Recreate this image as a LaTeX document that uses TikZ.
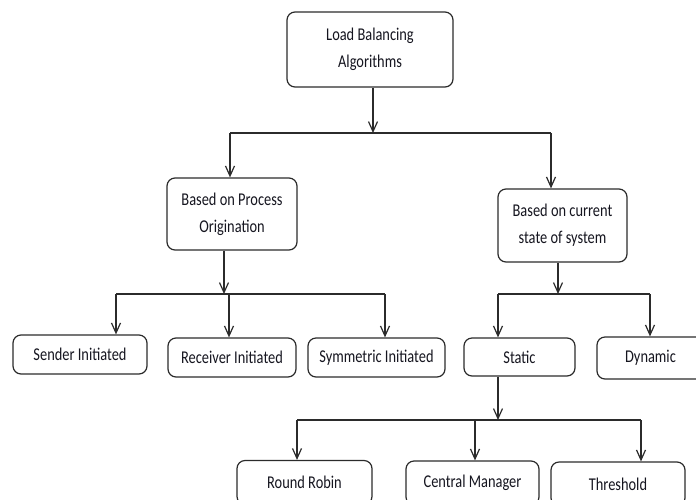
\documentclass[tikz,border=0pt]{standalone}
\usepackage{fontspec}
\setmainfont{Carlito}[FakeStretch=0.8]
\usetikzlibrary{arrows.meta}
\definecolor{linec}{HTML}{2B2B2B}
\definecolor{textc}{HTML}{15151F}
\begin{document}
\begin{tikzpicture}[x=1pt,y=-1pt,
  box/.style={draw=linec, line width=1.2pt, rounded corners=8pt, inner sep=0pt,
    align=center, text=textc, font=\fontsize{18}{27}\selectfont},
  conn/.style={draw=linec, line width=1.2pt},
  arr/.style={conn, -{Straight Barb[length=10pt,width=9pt,line width=1.2pt]}}]
\useasboundingbox (0,0) rectangle (696,499);
% nodes
\node[box, minimum width=166pt, minimum height=75pt] (top) at (370,49.5) {Load Balancing\\Algorithms};
\node[box, minimum width=130pt, minimum height=72pt] (proc) at (232,214) {Based on Process\\Origination};
\node[box, minimum width=129pt, minimum height=73pt] (curr) at (562.5,225.5) {Based on current\\state of system};
\node[box, minimum width=134pt, minimum height=39pt] (sender) at (80,354.5) {Sender Initiated};
\node[box, minimum width=128pt, minimum height=39pt] (receiver) at (232,357.5) {Receiver Initiated};
\node[box, minimum width=137pt, minimum height=39pt] (symm) at (376.5,357.5) {Symmetric Initiated};
\node[box, minimum width=111pt, minimum height=38pt] (static) at (519.5,357) {Static};
\node[box, minimum width=107pt, minimum height=42pt] (dynamic) at (650.5,358) {Dynamic};
\node[box, minimum width=135pt, minimum height=44pt] (rr) at (304.5,482.5) {Round Robin};
\node[box, minimum width=133pt, minimum height=44pt] (cm) at (472.5,483) {Central Manager};
\node[box, minimum width=134pt, minimum height=44pt] (th) at (618,484) {Threshold};
% bus coordinates
\coordinate (j1) at (373,133);
\coordinate (b1l) at (230,133);
\coordinate (b1r) at (551,133);
\coordinate (j2) at (224,294);
\coordinate (b2a) at (116,294);
\coordinate (b2b) at (229,294);
\coordinate (b2c) at (385,294);
\coordinate (j3) at (558,294);
\coordinate (b3a) at (498,294);
\coordinate (b3b) at (650,294);
\coordinate (j4) at (498,420);
\coordinate (b4a) at (297,420);
\coordinate (b4b) at (475,420);
\coordinate (b4c) at (641,420);
% connectors
\draw[arr] (top.south -| j1) -- (j1);
\draw[conn] (b1l) -- (b1r);
\draw[arr] (b1l) -- (b1l |- proc.north);
\draw[arr] (b1r) -- (b1r |- curr.north);
\draw[arr] (proc.south -| j2) -- (j2);
\draw[conn] (b2a) -- (b2c);
\draw[arr] (b2a) -- (b2a |- sender.north);
\draw[arr] (b2b) -- (b2b |- receiver.north);
\draw[arr] (b2c) -- (b2c |- symm.north);
\draw[arr] (curr.south -| j3) -- (j3);
\draw[conn] (b3a) -- (b3b);
\draw[arr] (b3a) -- (b3a |- static.north);
\draw[arr] (b3b) -- (b3b |- dynamic.north);
\draw[arr] (static.south -| j4) -- (j4);
\draw[conn] (b4a) -- (b4c);
\draw[arr] (b4a) -- (b4a |- rr.north);
\draw[arr] (b4b) -- (b4b |- cm.north);
\draw[arr] (b4c) -- (b4c |- th.north);
\end{tikzpicture}
\end{document}
